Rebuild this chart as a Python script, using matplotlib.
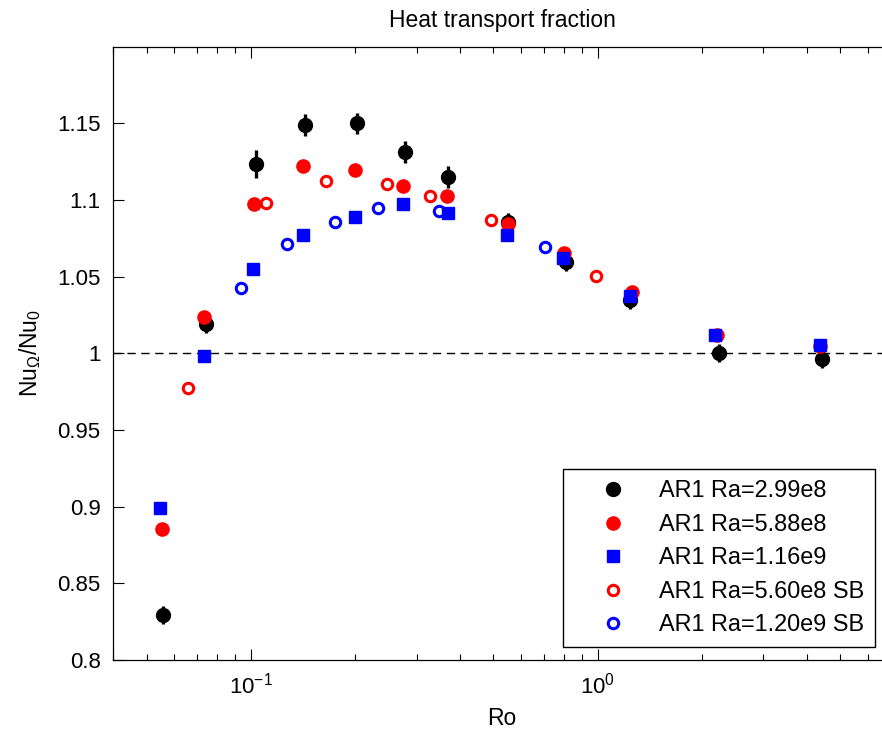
import matplotlib
matplotlib.use("Agg")
import matplotlib.pyplot as plt
from matplotlib.ticker import LogLocator, FixedLocator, FuncFormatter, NullFormatter

plt.rcParams['font.family'] = ['Liberation Sans', 'DejaVu Sans']
plt.rcParams['mathtext.fontset'] = 'custom'
plt.rcParams['mathtext.rm'] = 'Liberation Sans'
plt.rcParams['mathtext.it'] = 'Liberation Sans'
plt.rcParams['mathtext.default'] = 'regular'

# data
ro_a = [0.0557, 0.0743, 0.1034, 0.1429, 0.2016, 0.2770, 0.3692, 0.551, 0.808, 1.24, 2.228, 4.43]
nu_a = [0.8293, 1.0189, 1.1232, 1.1489, 1.1500, 1.1313, 1.1148, 1.0858, 1.0597, 1.0347, 1.0000, 0.9963]
err_a = [0.0058, 0.006, 0.0092, 0.0074, 0.0068, 0.0074, 0.0072, 0.0058, 0.006, 0.0058, 0.006, 0.006]

ro_b = [0.0552, 0.0733, 0.1023, 0.1410, 0.1990, 0.2747, 0.3667, 0.549, 0.798, 1.256, 2.20, 4.365]
nu_b = [0.8854, 1.0235, 1.0974, 1.1221, 1.1195, 1.1091, 1.1028, 1.0841, 1.0652, 1.0402, 1.0119, 1.0048]

ro_c = [0.0545, 0.0733, 0.1016, 0.1410, 0.1990, 0.2747, 0.3692, 0.5466, 0.7915, 1.2416, 2.178, 4.365]
nu_c = [0.8993, 0.9984, 1.0550, 1.0771, 1.0891, 1.0972, 1.0913, 1.0771, 1.0624, 1.0374, 1.0119, 1.0054]

ro_d = [0.0658, 0.1102, 0.165, 0.2465, 0.3278, 0.4916, 0.989]
nu_d = [0.9776, 1.0982, 1.1124, 1.1102, 1.1028, 1.0869, 1.0504]

ro_e = [0.0936, 0.1268, 0.1751, 0.2323, 0.3478, 0.7029]
nu_e = [1.0424, 1.0713, 1.0854, 1.0946, 1.0928, 1.0691]

labels = ['AR1 Ra=2.99e8', 'AR1 Ra=5.88e8', 'AR1 Ra=1.16e9',
          'AR1 Ra=5.60e8 SB', 'AR1 Ra=1.20e9 SB']
yticks = [0.8, 0.85, 0.9, 0.95, 1.0, 1.05, 1.1, 1.15]

fig = plt.figure(figsize=(8.82, 7.29), dpi=100)
ax = fig.add_axes([113/882, 69/729, 778/882, 613.5/729])

ax.axhline(1.0, color='black', lw=1, ls=(0, (6, 4)), zorder=1)

# error bars first, markers on top
ax.errorbar(ro_a, nu_a, yerr=err_a, fmt='none', ecolor='black', elinewidth=2.4,
            capsize=0, zorder=2)
h1, = ax.plot(ro_a, nu_a, 'o', color='black', ms=10, zorder=3)
h2, = ax.plot(ro_b, nu_b, 'o', color='red', ms=9.5, zorder=4)
h3, = ax.plot(ro_c, nu_c, 's', color='blue', ms=8, zorder=5)
h4, = ax.plot(ro_d, nu_d, 'o', mfc='white', mec='red', mew=2.2, ms=7.5, zorder=4)
h5, = ax.plot(ro_e, nu_e, 'o', mfc='white', mec='blue', mew=2.2, ms=7.5, zorder=4)

ax.set_xscale('log')
ax.set_xlim(0.04, 7)
ax.set_ylim(0.8, 1.2)
ax.yaxis.set_major_locator(FixedLocator(yticks))
ax.yaxis.set_major_formatter(FuncFormatter(lambda v, p: '%g' % v))
ax.xaxis.set_major_locator(LogLocator(base=10))
ax.xaxis.set_minor_locator(LogLocator(base=10, subs=range(2, 10)))
ax.xaxis.set_minor_formatter(NullFormatter())

ax.tick_params(axis='both', which='both', direction='in', top=True, right=False,
               labelsize=16, width=0.8)
ax.tick_params(axis='both', which='major', length=8, pad=9)
ax.tick_params(axis='both', which='minor', length=4)
for s in ax.spines.values():
    s.set_linewidth(0.9)
ax.spines['right'].set_visible(False)

ax.set_title('Heat transport fraction', fontsize=16.5, pad=14)
ax.set_xlabel('Ro', fontsize=16.5, labelpad=6)
ax.set_ylabel('Nu$_\\Omega$/Nu$_0$', fontsize=16.5, labelpad=10)

leg = ax.legend([h1, h2, h3, h4, h5], labels, loc='lower right',
                bbox_to_anchor=(875/882, 82/729),
                bbox_transform=fig.transFigure, borderaxespad=0, fontsize=16.9,
                fancybox=False, framealpha=1, edgecolor='black', handlelength=3.4,
                handletextpad=0.25, labelspacing=0.45, borderpad=0.45, numpoints=1)
leg.get_frame().set_linewidth(1)

fig.savefig('out.png', dpi=100)
